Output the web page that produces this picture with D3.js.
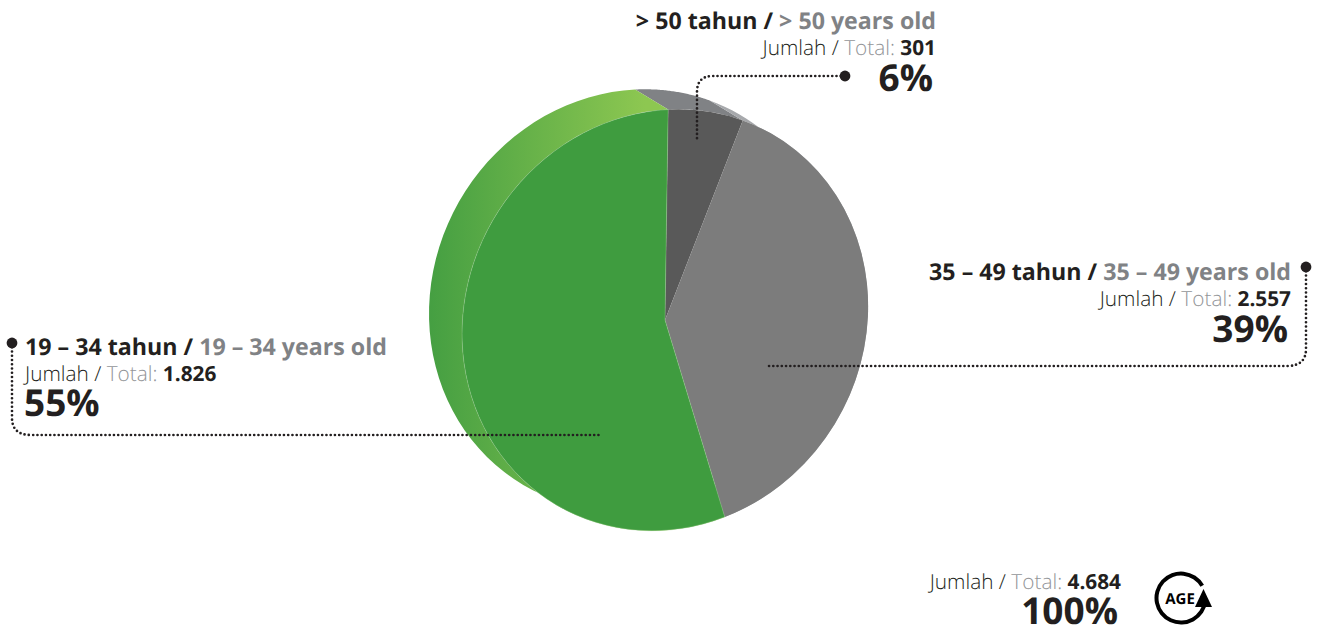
<!DOCTYPE html>
<html>
<head>
<meta charset="utf-8">
<script src="https://cdn.jsdelivr.net/npm/d3@7"></script>
<style>
  body { margin: 0; background: #fff; }
  svg { display: block; }
  text { font-family: "Open Sans", sans-serif; fill: #231f20; text-rendering: geometricPrecision; }
  .en { fill: #808285; }
  .muted { fill: #939598; }
</style>
</head>
<body>
<svg id="svg" width="1322" height="627"></svg>
<script>
const labelsId = ['> 50 tahun', '35 – 49 tahun', '19 – 34 tahun'];
const labelsEn = ['> 50 years old', '35 – 49 years old', '19 – 34 years old'];
const totals = ['301', '2.557', '1.826'];
const percents = [6, 39, 55];
const grandTotal = '4.684';
const grandPercent = 100;

const frontColors = ['#595959', '#7c7c7c', '#3f9c3f'];
const sideColors = ['#808285', '#a7a9ac', 'url(#sideGreen)'];

const w = 1322, h = 627;
const svg = d3.select('#svg').attr('viewBox', `0 0 ${w} ${h}`);

// the pie is a tilted ellipse, the back face is the same ellipse moved up left
const cx = 665, cy = 320, major = 214.5, minor = 199, tilt = 30;
const backDx = -33, backDy = -20;
const rad = Math.PI / 180;

const pie = d3.pie().sort(null)
  .startAngle(-31 * rad).endAngle((360 - 31) * rad);
const slices = pie(percents);

function ellipsePoint(a, dx, dy) {
  const x = Math.sin(a) * minor, y = -Math.cos(a) * major;
  const t = tilt * rad;
  return [cx + dx + x * Math.cos(t) - y * Math.sin(t),
          cy + dy + x * Math.sin(t) + y * Math.cos(t)];
}

const defs = svg.append('defs');
const grad = defs.append('linearGradient').attr('id', 'sideGreen')
  .attr('gradientUnits', 'userSpaceOnUse')
  .attr('x1', 429).attr('x2', 645).attr('y1', 0).attr('y2', 0);
grad.append('stop').attr('offset', 0).attr('stop-color', '#459f42');
grad.append('stop').attr('offset', 1).attr('stop-color', '#8dc751');

// side walls
const line = d3.line();
function wall(d) {
  const steps = d3.range(0, 61).map(i => d.startAngle + (d.endAngle - d.startAngle) * i / 60);
  const back = steps.map(a => ellipsePoint(a, backDx, backDy));
  const front = steps.slice().reverse().map(a => ellipsePoint(a, 0, 0));
  return line(back.concat(front)) + 'Z';
}
svg.append('g').selectAll('path')
  .data(slices)
  .enter()
  .append('path')
  .attr('d', wall)
  .attr('fill', (d, i) => sideColors[i]);

// front face
const arc = d3.arc().innerRadius(0).outerRadius(1);
svg.append('g')
  .attr('transform', `translate(${cx},${cy}) rotate(${tilt}) scale(${minor},${major})`)
  .selectAll('path')
  .data(slices)
  .enter()
  .append('path')
  .attr('d', arc)
  .attr('fill', (d, i) => frontColors[i])
  .attr('stroke', (d, i) => i == 2 ? '#a5d29a' : 'none')
  .attr('stroke-width', 0.5)
  .attr('stroke-opacity', 0.7)
  .attr('vector-effect', 'non-scaling-stroke');

// leaders
const leaders = [
  { dot: [845, 76], path: 'M845,76H713Q697,76 697,92V142' },
  { dot: [1306, 267], path: 'M1306,267V349Q1306,366 1287,366H766' },
  { dot: [12, 343], path: 'M12,343V418Q12,435 31,435H600' }
];
svg.append('g').selectAll('path')
  .data(leaders)
  .enter()
  .append('path')
  .attr('d', d => d.path)
  .attr('fill', 'none')
  .attr('stroke', '#231f20')
  .attr('stroke-width', 2.7)
  .attr('stroke-linecap', 'round')
  .attr('stroke-dasharray', '0 4.25');
svg.append('g').selectAll('circle')
  .data(leaders)
  .enter()
  .append('circle')
  .attr('cx', d => d.dot[0])
  .attr('cy', d => d.dot[1])
  .attr('r', 5.4)
  .attr('fill', '#231f20');

// labels
const labelPos = [
  { x: 936, pctX: 933, anchor: 'end', y: [29, 55, 91] },
  { x: 1291, pctX: 1288, anchor: 'end', y: [280, 306, 342] },
  { x: 25, pctX: 24, anchor: 'start', y: [355, 381, 416] }
];

function totalLine(g, x, y, anchor, total) {
  const t = g.append('text').attr('x', x).attr('y', y)
    .attr('text-anchor', anchor).attr('font-size', 20.8);
  t.append('tspan').attr('font-weight', 300).text('Jumlah / ');
  t.append('tspan').attr('class', 'muted').attr('font-weight', 300).text('Total: ');
  t.append('tspan').attr('font-weight', 700).text(total);
}

percents.forEach((p, i) => {
  const pos = labelPos[i];
  const g = svg.append('g');
  const title = g.append('text').attr('x', pos.x).attr('y', pos.y[0])
    .attr('text-anchor', pos.anchor).attr('font-size', 23.2).attr('font-weight', 700);
  title.append('tspan').text(labelsId[i] + ' / ');
  title.append('tspan').attr('class', 'en').text(labelsEn[i]);
  totalLine(g, pos.x, pos.y[1], pos.anchor, totals[i]);
  g.append('text').attr('x', pos.pctX).attr('y', pos.y[2])
    .attr('text-anchor', pos.anchor).attr('font-size', 37).attr('font-weight', 700)
    .text(p + '%');
});

const totalG = svg.append('g');
totalLine(totalG, 1121, 589, 'end', grandTotal);
totalG.append('text').attr('x', 1118).attr('y', 624)
  .attr('text-anchor', 'end').attr('font-size', 37).attr('font-weight', 700)
  .text(grandPercent + '%');

// age icon
const icon = svg.append('g').attr('transform', 'translate(1181,598)');
icon.append('path')
  .attr('d', d3.arc().innerRadius(22.5).outerRadius(26.5).startAngle(97 * rad).endAngle(420 * rad)())
  .attr('fill', '#000');
icon.append('path')
  .attr('d', d3.line()([[14, 9], [31, 9], [22.5, -9]]) + 'Z')
  .attr('fill', '#000');
icon.append('text')
  .attr('x', -1).attr('y', 6)
  .attr('text-anchor', 'middle')
  .attr('font-size', 15)
  .attr('font-weight', 700)
  .style('fill', '#000')
  .text('AGE');
</script>
</body>
</html>
